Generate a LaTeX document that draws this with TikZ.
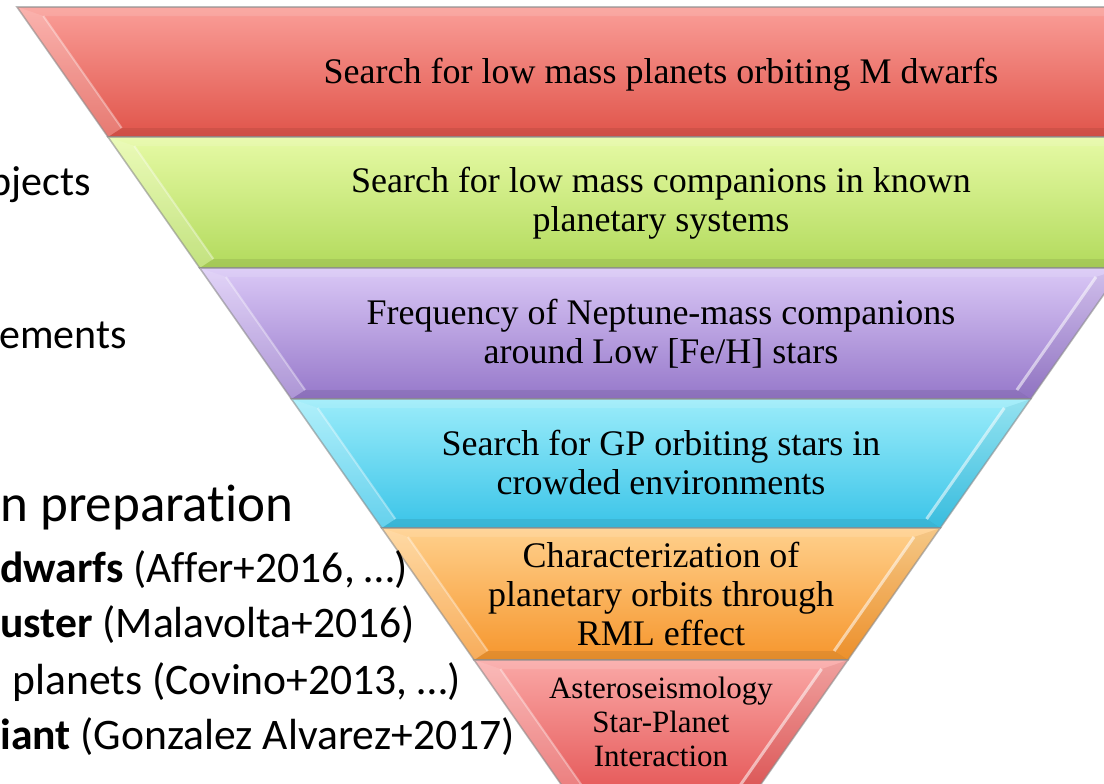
\documentclass[tikz,border=0pt]{standalone}
\usepackage{fontspec}
\setmainfont{Liberation Serif}
\newfontfamily\calib[Ligatures=NoCommon]{Carlito}
\begin{document}
\begin{tikzpicture}[x=0.5pt,y=-0.5pt,
  lay/.style={align=center,text=black,inner sep=0pt,font=\fontsize{18}{19.5}\selectfont},
  laysmall/.style={align=center,text=black,inner sep=0pt,font=\fontsize{15.5}{17}\selectfont},
  side/.style={anchor=base west,inner sep=0pt,text=black,font=\calib\fontsize{21.8}{24}\selectfont},
  sidebig/.style={anchor=base west,inner sep=0pt,text=black,font=\calib\fontsize{21}{24}\selectfont},
  prep/.style={anchor=base west,inner sep=0pt,text=black,font=\calib\fontsize{26.5}{30}\selectfont}]
\definecolor{redT}{RGB}{250,158,152}
\definecolor{redB}{RGB}{224,84,74}
\definecolor{grnT}{RGB}{230,250,165}
\definecolor{grnB}{RGB}{178,218,92}
\definecolor{purT}{RGB}{218,200,246}
\definecolor{purB}{RGB}{150,120,202}
\definecolor{bluT}{RGB}{155,236,250}
\definecolor{bluB}{RGB}{58,196,232}
\definecolor{oraT}{RGB}{255,208,140}
\definecolor{oraB}{RGB}{246,150,45}
\definecolor{pnkT}{RGB}{250,168,166}
\definecolor{pnkB}{RGB}{228,84,84}
\useasboundingbox (0,0) rectangle (1104,783);
\clip (0,0) rectangle (1104,783);
\fill[white] (0,0) rectangle (1104,783);
\foreach \yt/\yb/\ct/\cb in {7/137/redT/redB,137/268/grnT/grnB,268/399/purT/purB,399/528/bluT/bluB,528/660/oraT/oraB,660/800/pnkT/pnkB}{
  \pgfmathsetmacro\lt{17+0.7*(\yt-7)}
  \pgfmathsetmacro\lb{17+0.7*(\yb-7)}
  \pgfmathsetmacro\rt{1305-0.7*(\yt-7)}
  \pgfmathsetmacro\rb{1305-0.7*(\yb-7)}
  \pgfmathsetmacro\yti{\yt+9}
  \pgfmathsetmacro\ybi{\yb-9}
  \pgfmathsetmacro\lti{17+0.7*(\yti-7)+20}
  \pgfmathsetmacro\lbi{17+0.7*(\ybi-7)+20}
  \pgfmathsetmacro\rti{1305-0.7*(\yti-7)-20}
  \pgfmathsetmacro\rbi{1305-0.7*(\ybi-7)-20}
  \shade[top color=\ct, bottom color=\cb] (\lt,\yt) -- (\rt,\yt) -- (\rb,\yb) -- (\lb,\yb) -- cycle;
  \fill[white,opacity=0.22] (\lt,\yt) -- (\lti,\yti) -- (\lbi,\ybi) -- (\lb,\yb) -- cycle;
  \fill[white,opacity=0.12] (\lt,\yt) -- (\rt,\yt) -- (\rti,\yti) -- (\lti,\yti) -- cycle;
  \fill[black,opacity=0.08] (\lb,\yb) -- (\lbi,\ybi) -- (\rbi,\ybi) -- (\rb,\yb) -- cycle;
  \fill[black,opacity=0.04] (\rt,\yt) -- (\rti,\yti) -- (\rbi,\ybi) -- (\rb,\yb) -- cycle;
  \draw[white,opacity=0.55,line width=1.5] (\rti,\yti) -- (\rbi,\ybi);
  \draw[white,opacity=0.35,line width=1] (\lti,\yti) -- (\lbi,\ybi);
  \draw[black!45,opacity=0.6,line width=0.8] (\lt,\yt) -- (\rt,\yt) -- (\rb,\yb) -- (\lb,\yb) -- cycle;
}
\node[lay] (t1) at (661,75) {Search for low mass planets orbiting M dwarfs};
\node[lay] (t2) at (661,203) {Search for low mass companions in known\\planetary systems};
\node[lay] (t3) at (661,334) {Frequency of Neptune-mass companions\\around Low [Fe/H] stars};
\node[lay] (t4) at (661,462) {Search for GP orbiting stars in\\crowded environments};
\node[lay] (t5) at (661,594) {Characterization of\\planetary orbits through\\RML effect};
\node[laysmall] (t6) at (661,722) {Asteroseismology\\Star-Planet\\Interaction};
\node[sidebig] (s1) at (-11,195) {bjects};
\node[sidebig] (s2) at (-1,348) {ements};
\node[prep] (s3) at (0,521) {n preparation};
\node[side] (s4) at (0,582) {\textbf{dwarfs} (Affer+2016, …)};
\node[side] (s5) at (0,637) {\textbf{uster} (Malavolta+2016)};
\node[side] (s6) at (12,694) {planets (Covino+2013, …)};
\node[side] (s7) at (0,749) {\textbf{iant} (Gonzalez Alvarez+2017)};
\end{tikzpicture}
\end{document}
